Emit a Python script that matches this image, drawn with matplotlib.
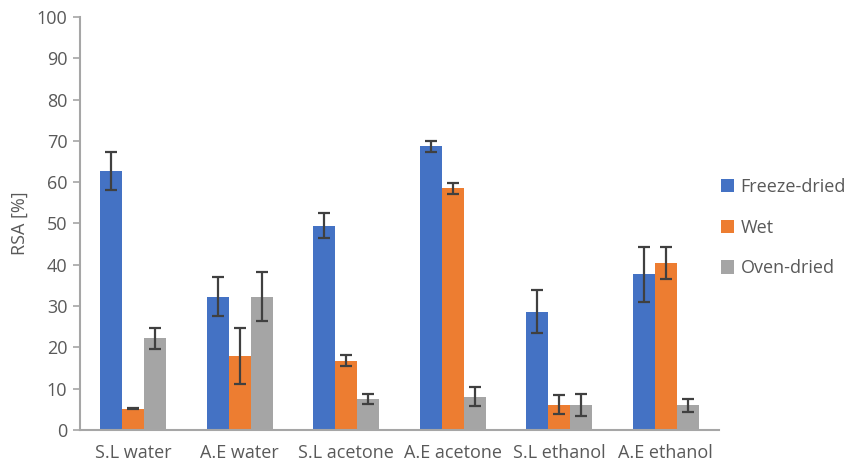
import matplotlib
matplotlib.use("Agg")
import matplotlib.pyplot as plt
import numpy as np

categories = ["S.L water", "A.E water", "S.L acetone", "A.E acetone", "S.L ethanol", "A.E ethanol"]
series_names = ["Freeze-dried", "Wet", "Oven-dried"]
freeze_dried = [62.7, 32.3, 49.5, 68.7, 28.6, 37.7]
freeze_err = [4.5, 4.7, 3.1, 1.3, 5.2, 6.6]
wet = [5.2, 18.0, 16.8, 58.5, 6.1, 40.4]
wet_err = [0.2, 6.8, 1.4, 1.4, 2.3, 3.9]
oven_dried = [22.2, 32.3, 7.5, 8.1, 6.1, 6.0]
oven_err = [2.5, 6.0, 1.1, 2.2, 2.7, 1.6]
yticks = list(range(0, 101, 10))

colors = ["#4472C4", "#ED7D31", "#A5A5A5"]
plt.rcParams['font.family'] = ['Open Sans', 'DejaVu Sans']

fig = plt.figure(figsize=(8.5, 4.68), dpi=100)
ax = fig.add_axes([0.094, 0.0812, 0.752, 0.8825])

x = np.arange(len(categories))
w = 0.207
vals = [freeze_dried, wet, oven_dried]
errs = [freeze_err, wet_err, oven_err]
for i, (v, e) in enumerate(zip(vals, errs)):
    ax.bar(x + (i - 1) * w, v, width=w, color=colors[i], label=series_names[i],
           yerr=e, error_kw=dict(ecolor="#404040", elinewidth=1.6, capsize=4, capthick=1.6),
           zorder=2)

fs = 13
ax.set_xlim(-0.5, len(categories) - 0.5)
ax.set_ylim(0, 100)
ax.set_yticks(yticks)
ax.set_xticks(x)
ax.set_xticklabels(categories)
for s in ["top", "right"]:
    ax.spines[s].set_visible(False)
for s in ["left", "bottom"]:
    ax.spines[s].set_color("#A6A6A6")
    ax.spines[s].set_linewidth(1.5)
ax.tick_params(axis="y", colors="#A6A6A6", labelcolor="#595959", labelsize=fs, length=5, width=1.2, pad=4)
ax.tick_params(axis="x", length=0, labelcolor="#595959", labelsize=fs, pad=10)
ax.set_ylabel("RSA [%]", fontsize=fs, color="#595959", labelpad=6)

leg = ax.legend(loc="center left", bbox_to_anchor=(0.977, 0.49), frameon=False,
                fontsize=fs, labelcolor="#595959", handlelength=0.75, handleheight=0.75,
                labelspacing=1.25, handletextpad=0.35)

fig.savefig("out.png", dpi=100)
